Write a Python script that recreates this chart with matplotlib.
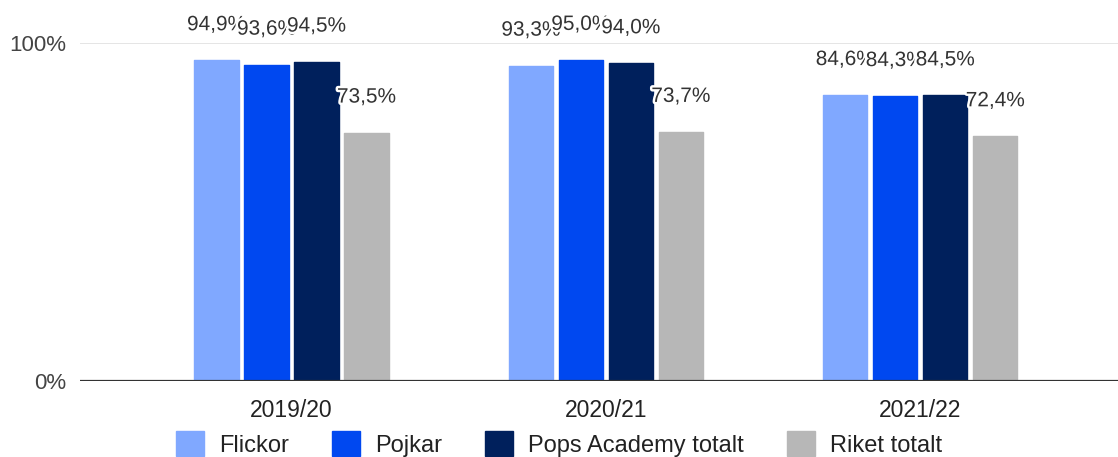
import matplotlib
matplotlib.use('Agg')
import matplotlib.pyplot as plt
import matplotlib.patheffects as pe
from matplotlib.patches import Patch
import numpy as np

plt.rcParams['font.family'] = ['Liberation Sans', 'DejaVu Sans']

years = ["2019/20", "2020/21", "2021/22"]
series = ["Flickor", "Pojkar", "Pops Academy totalt", "Riket totalt"]
flickor = [94.9, 93.3, 84.6]
pojkar = [93.6, 95.0, 84.3]
pops = [94.5, 94.0, 84.5]
riket = [73.5, 73.7, 72.4]
colors = ["#80a8ff", "#0048f0", "#00205c", "#b7b7b7"]

values = [flickor, pojkar, pops, riket]

fig = plt.figure(figsize=(11.18, 4.57), dpi=100)
ax = fig.add_axes([80 / 1118, 76 / 457, 1 - 80 / 1118, (381 - 43) / 457])

x = np.arange(len(years))
pitch = 0.159
width = 0.141

for i, vals in enumerate(values):
    pos = x + (i - 1.5) * pitch
    ax.bar(pos, vals, width, color=colors[i], edgecolor=colors[i],
           linewidth=1, joinstyle='round', zorder=2)

# labels drawn group by group so later ones cover earlier ones
for j in range(len(years)):
    for i, vals in enumerate(values):
        pos = x[j] + (i - 1.5) * pitch
        ax.text(pos, vals[j] + 10.5, ("%.1f%%" % vals[j]).replace('.', ','),
                ha='center', va='center', fontsize=15, color='#333333',
                clip_on=False, zorder=5,
                path_effects=[pe.withStroke(linewidth=3.5, foreground='white')])

ax.set_xlim(-0.673, 2.629)
ax.set_ylim(0, 100)
ax.axhline(100, color='#e0e0e0', linewidth=1.2, zorder=1)
ax.axhline(0, color='#333333', linewidth=1.6, zorder=3)

ax.set_yticks([0, 100])
ax.set_yticklabels(["0%", "100%"], fontsize=16, color='#444444')
ax.set_xticks(x)
ax.set_xticklabels(years, fontsize=16.5, color='#222222')
ax.tick_params(axis='y', length=0, pad=10)
ax.tick_params(axis='x', length=0, pad=13)
for s in ax.spines.values():
    s.set_visible(False)

handles = [Patch(facecolor=c, edgecolor=c, linewidth=1, joinstyle='round') for c in colors]
leg = fig.legend(handles, series, loc='center', bbox_to_anchor=(0.5, 13 / 457),
                 ncol=4, frameon=False, fontsize=17, handlelength=1.2,
                 handleheight=1.2, handletextpad=0.65, columnspacing=1.8)
for t in leg.get_texts():
    t.set_color('#222222')

fig.savefig('out.png', dpi=100)
